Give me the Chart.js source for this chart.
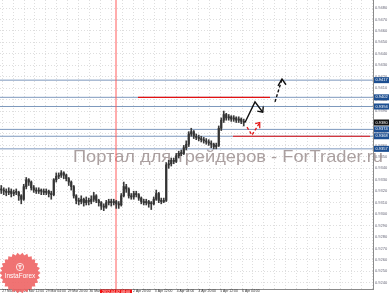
<!DOCTYPE html>
<html><head><meta charset="utf-8">
<script src="https://cdn.jsdelivr.net/npm/chart.js@4"></script>
<style>html,body{margin:0;padding:0;background:#fff;overflow:hidden}canvas{display:block}</style>
</head><body>
<canvas id="c" width="389" height="293"></canvas>
<script>
// ---- data ----
const xTickLabels = ["27 Mar 2012","28 Mar 12:00","29 Mar 04:00","29 Mar 20:00","30 Mar 12:00","2 Apr 04:00","2 Apr 20:00","3 Apr 12:00","4 Apr 04:00","4 Apr 20:00","5 Apr 12:00","6 Apr 04:00"];
const cursorLabel = "2012.04.02 08:00";
const cursorBar = 45.9;

const openP = [0.9322,0.9321,0.9320,0.9319,0.9320,0.9318,0.9319,0.9319,0.9316,0.9313,
0.9324,0.9330,0.9328,0.9323,0.9321,0.9320,0.9321,0.9320,0.9319,0.9320,
0.9318,0.9317,0.9330,0.9333,0.9334,0.9336,0.9334,0.9331,0.9328,0.9324,
0.9316,0.9312,0.9311,0.9313,0.9310,0.9312,0.9311,0.9313,0.9316,0.9312,
0.9310,0.9307,0.9306,0.9310,0.9311,0.9310,0.9311,0.9309,0.9308,0.9316,
0.9324,0.9322,0.9316,0.9315,0.9318,0.9317,0.9314,0.9311,0.9310,0.9311,
0.9309,0.9309,0.9313,0.9318,0.9312,0.9311,0.9312,0.9343,0.9344,0.9347,
0.9346,0.9351,0.9353,0.9353,0.9358,0.9361,0.9370,0.9372,0.9368,0.9367,
0.9366,0.9365,0.9364,0.9363,0.9362,0.9361,0.9359,0.9360,0.9375,0.9382,
0.9387,0.9384,0.9385,0.9383,0.9384,0.9382,0.9383,0.9381];
const highP = [0.9325,0.9323,0.9322,0.9323,0.9322,0.9321,0.9322,0.9320,0.9317,0.9326,
0.9332,0.9331,0.9329,0.9325,0.9323,0.9323,0.9322,0.9322,0.9322,0.9321,
0.9320,0.9331,0.9336,0.9336,0.9338,0.9337,0.9335,0.9332,0.9329,0.9325,
0.9317,0.9314,0.9316,0.9314,0.9315,0.9314,0.9316,0.9319,0.9317,0.9313,
0.9311,0.9309,0.9312,0.9313,0.9313,0.9313,0.9312,0.9311,0.9318,0.9328,
0.9326,0.9323,0.9318,0.9320,0.9320,0.9318,0.9315,0.9313,0.9313,0.9312,
0.9311,0.9315,0.9321,0.9319,0.9314,0.9314,0.9345,0.9347,0.9349,0.9349,
0.9353,0.9355,0.9356,0.9360,0.9364,0.9372,0.9375,0.9373,0.9370,0.9369,
0.9368,0.9367,0.9366,0.9365,0.9364,0.9362,0.9362,0.9377,0.9384,0.9390,
0.9388,0.9387,0.9386,0.9386,0.9385,0.9385,0.9384,0.9383];
const lowP = [0.9318,0.9317,0.9316,0.9317,0.9315,0.9316,0.9317,0.9312,0.9309,0.9312,
0.9322,0.9325,0.9321,0.9319,0.9318,0.9318,0.9317,0.9317,0.9317,0.9315,
0.9313,0.9316,0.9328,0.9331,0.9332,0.9331,0.9329,0.9325,0.9321,0.9314,
0.9309,0.9308,0.9309,0.9307,0.9308,0.9308,0.9309,0.9311,0.9310,0.9307,
0.9304,0.9303,0.9305,0.9308,0.9307,0.9308,0.9305,0.9305,0.9307,0.9315,
0.9319,0.9314,0.9313,0.9313,0.9315,0.9312,0.9309,0.9308,0.9308,0.9306,
0.9304,0.9308,0.9312,0.9310,0.9309,0.9310,0.9311,0.9340,0.9342,0.9344,
0.9345,0.9349,0.9351,0.9352,0.9356,0.9359,0.9368,0.9366,0.9365,0.9364,
0.9363,0.9362,0.9361,0.9360,0.9358,0.9357,0.9357,0.9359,0.9373,0.9380,
0.9382,0.9382,0.9381,0.9381,0.9380,0.9380,0.9379,0.9377];
const closeP = [0.9321,0.9320,0.9319,0.9320,0.9318,0.9319,0.9319,0.9316,0.9313,0.9324,
0.9330,0.9328,0.9323,0.9321,0.9320,0.9321,0.9320,0.9319,0.9320,0.9318,
0.9317,0.9330,0.9333,0.9334,0.9336,0.9334,0.9331,0.9328,0.9324,0.9316,
0.9312,0.9311,0.9313,0.9310,0.9312,0.9311,0.9313,0.9316,0.9312,0.9310,
0.9307,0.9306,0.9310,0.9311,0.9310,0.9311,0.9309,0.9308,0.9316,0.9324,
0.9322,0.9316,0.9315,0.9318,0.9317,0.9314,0.9311,0.9310,0.9311,0.9309,
0.9309,0.9313,0.9318,0.9312,0.9311,0.9312,0.9343,0.9344,0.9347,0.9346,
0.9351,0.9353,0.9353,0.9358,0.9361,0.9370,0.9372,0.9368,0.9367,0.9366,
0.9365,0.9364,0.9363,0.9362,0.9361,0.9359,0.9360,0.9375,0.9382,0.9387,
0.9384,0.9385,0.9383,0.9384,0.9382,0.9383,0.9381,0.9380];

const yTickValues = [0.9240,0.9250,0.9260,0.9270,0.9280,0.9290,0.9300,0.9310,0.9320,0.9330,0.9340,0.9350,0.9360,0.9370,0.9380,0.9390,0.9400,0.9410,0.9420,0.9430,0.9440,0.9450,0.9460,0.9470,0.9480];
const levelLines = [0.9417,0.9402,0.9394,0.9374,0.9368,0.9357];
const currentPrice = 0.9380;
const redLevels = [{from:54.7,to:107.5,price:0.9402},{from:92.7,to:147.5,price:0.9368}];
const blackPath = [{x:97.5,y:0.9380},{x:101.5,y:0.9398},{x:104.6,y:0.9389}];
const blackHead = [{x:102.4,y:0.9390},{x:104.6,y:0.9389},{x:104.8,y:0.9394}];
const dashPath = [{x:109.5,y:0.9398},{x:112.3,y:0.9418}];
const dashHead = [{x:110.7,y:0.9412},{x:112.3,y:0.9418},{x:113.9,y:0.9413}];
const redPath = [{x:98.3,y:0.9376},{x:100.3,y:0.9369},{x:103.4,y:0.9380}];
const redHead = [{x:101.6,y:0.9379},{x:103.4,y:0.9380},{x:103.4,y:0.9375}];

// ---- build ----
const X_MIN = -0.5, X_MAX = 148.7, Y_MIN = 0.92346, Y_MAX = 0.94870;
const lineDs = (data, color, width, dash, order) => ({type:'line', data, borderColor:color, borderWidth:width, borderDash:dash||[], pointRadius:0, fill:false, tension:0, order});

const datasets = [];
datasets.push({type:'bar', data: closeP.map((c,i)=>({x:i, y:[lowP[i], highP[i]]})), backgroundColor:'#3a3a3a', barThickness:1, grouped:false, order:2});
datasets.push({type:'bar', data: closeP.map((c,i)=>({x:i, y:[Math.min(openP[i],c), Math.max(openP[i],c)]})), backgroundColor:'#333', barThickness:1.5, minBarLength:1, grouped:false, order:1});
levelLines.forEach(v => datasets.push(lineDs([{x:X_MIN,y:v},{x:X_MAX,y:v}], '#7d98bd', 1, null, 6)));
redLevels.forEach(r => datasets.push(lineDs([{x:r.from,y:r.price},{x:r.to,y:r.price}], '#e31010', 1.2, null, 4)));
datasets.push(lineDs([{x:cursorBar,y:Y_MIN},{x:cursorBar,y:Y_MAX}], '#ff5a5a', 1, null, 5));
datasets.push(lineDs(blackPath, '#111', 1.4, null, 0));
datasets.push(lineDs(blackHead, '#111', 1.4, null, 0));
datasets.push(lineDs(dashPath, '#111', 1.4, [3,2], 0));
datasets.push(lineDs(dashHead, '#111', 1.4, null, 0));
datasets.push(lineDs(redPath, '#e31010', 1.2, [3,2], 0));
datasets.push(lineDs(redHead, '#e31010', 1.2, null, 0));

const watermark = {
  id:'watermark',
  beforeDatasetsDraw(chart){
    const ctx = chart.ctx;
    ctx.save();
    ctx.font = '17px "Liberation Sans", Arial, sans-serif';
    const txt = 'Портал для трейдеров - ForTrader.ru';
    const w = ctx.measureText(txt).width;
    ctx.translate(73, 162);
    ctx.scale(310 / w, 1);
    ctx.fillStyle = 'rgba(150,136,136,0.8)';
    ctx.textBaseline = 'alphabetic';
    ctx.fillText(txt, 0, 0);
    ctx.restore();
  }
};

const overlays = {
  id:'overlays',
  afterDraw(chart){
    const {ctx, chartArea:ca, scales:{x, y}} = chart;
    ctx.save();
    ctx.font = '4px "Liberation Sans", Arial, sans-serif';
    ctx.textBaseline = 'middle';
    levelLines.forEach(v => {
      const py = y.getPixelForValue(v);
      ctx.fillStyle = '#1d4f91';
      ctx.fillRect(ca.right + 1, py - 3, 15, 6);
      ctx.fillStyle = '#fff';
      ctx.fillText(v.toFixed(4), ca.right + 2.5, py);
    });
    const pc = y.getPixelForValue(currentPrice);
    ctx.fillStyle = '#111';
    ctx.fillRect(ca.right + 1, pc - 3, 15, 6);
    ctx.fillStyle = '#fff';
    ctx.fillText(currentPrice.toFixed(4), ca.right + 2.5, pc);
    // cursor time label
    const cx = x.getPixelForValue(cursorBar);
    ctx.fillStyle = '#f01010';
    ctx.fillRect(cx - 16, ca.bottom + 0.5, 32, 4.5);
    ctx.fillStyle = '#fff';
    ctx.textAlign = 'center';
    ctx.font = '3.6px "Liberation Sans", Arial, sans-serif';
    ctx.fillText(cursorLabel, cx, ca.bottom + 2.8);
    // logo
    const lx = 20, ly = 273, n = 26;
    ctx.beginPath();
    for (let k = 0; k < n * 2; k++) {
      const r = k % 2 === 0 ? 20.5 : 18;
      const a = Math.PI * k / n;
      const px = lx + r * Math.cos(a), py = ly + r * Math.sin(a);
      if (k === 0) ctx.moveTo(px, py); else ctx.lineTo(px, py);
    }
    ctx.closePath();
    ctx.fillStyle = 'rgba(238,100,100,0.9)';
    ctx.fill();
    ctx.strokeStyle = '#fff';
    ctx.lineWidth = 0.8;
    ctx.beginPath(); ctx.arc(lx, ly - 6, 3.6, 0, Math.PI * 2); ctx.stroke();
    ctx.fillStyle = '#fff';
    ctx.fillRect(lx - 0.5, ly - 8, 1, 4);
    ctx.fillRect(lx - 2, ly - 7.5, 4, 0.8);
    ctx.font = '6.5px "Liberation Sans", Arial, sans-serif';
    ctx.fillText('InstaForex', lx, ly + 3.5);
    ctx.restore();
  }
};

new Chart(document.getElementById('c'), {
  type:'bar',
  data:{datasets},
  plugins:[watermark, overlays],
  options:{
    responsive:false, animation:false, devicePixelRatio:1,
    layout:{padding:0},
    plugins:{legend:{display:false}, tooltip:{enabled:false}},
    scales:{
      x:{type:'linear', min:X_MIN, max:X_MAX, offset:false, position:'bottom',
        afterBuildTicks:s=>{ const t=[]; for(let j=0;j<=34;j++) t.push({value:0.4+4.36*j}); s.ticks=t; },
        afterFit:s=>{ s.height=4; s.paddingLeft=0; s.paddingRight=0; },
        ticks:{autoSkip:false, maxRotation:0, minRotation:0, align:'start', padding:0,
          font:{size:3.4, family:'"Liberation Sans", Arial, sans-serif'}, color:'#333',
          callback:(v,idx)=> idx%2===0 ? (xTickLabels[idx/2]||'') : ''},
        grid:{color:'#dedede', drawTicks:false, lineWidth:1, offset:false},
        border:{display:true, color:'#8a8a8a', dash:[1,2]}
      },
      y:{type:'linear', position:'right', min:Y_MIN, max:Y_MAX,
        afterBuildTicks:s=>{ s.ticks = yTickValues.map(v=>({value:v})); },
        afterFit:s=>{ s.width=16; s.paddingTop=0; s.paddingBottom=0; },
        ticks:{autoSkip:false, padding:2, font:{size:4, family:'"Liberation Sans", Arial, sans-serif'}, color:'#667',
          callback:v=>Number(v).toFixed(4)},
        grid:{color:'#dedede', drawTicks:false, lineWidth:1},
        border:{display:true, color:'#8a8a8a', dash:[1,2]}
      }
    }
  }
});
</script>
</body></html>
